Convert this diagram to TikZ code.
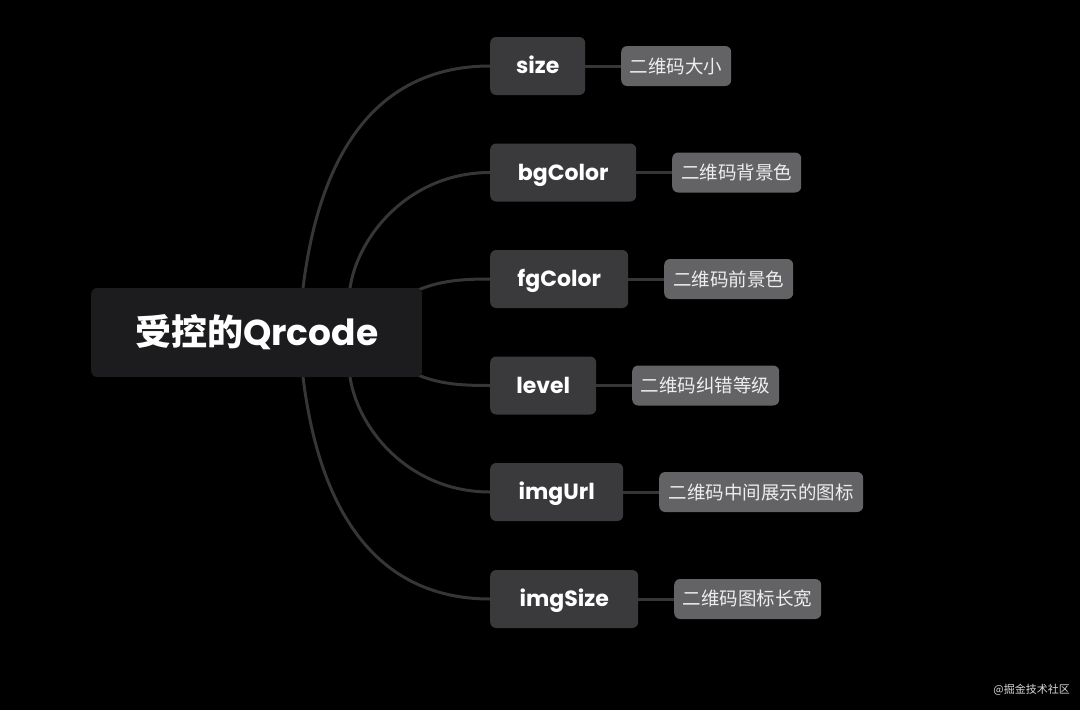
\documentclass[tikz,border=0pt]{standalone}
\usepackage{fontspec}
\setmainfont{Poppins}
\newfontfamily\cjk{Noto Sans CJK SC}
\pgfdeclarelayer{bg}
\pgfdeclarelayer{edges}
\pgfsetlayers{bg,edges,main}
\definecolor{rootfill}{HTML}{1C1C1E}
\definecolor{childfill}{HTML}{3A3A3C}
\definecolor{leaffill}{HTML}{636366}
\definecolor{linecol}{HTML}{363636}
\definecolor{leaftext}{HTML}{EEEEEE}
\tikzset{
  rootbox/.style={draw=none, fill=rootfill, rounded corners=6pt, anchor=west, minimum height=89pt, text=white, inner sep=0pt, text height=25pt, text depth=0pt, font=\fontsize{36}{42}\selectfont\bfseries},
  childbox/.style={draw=none, fill=childfill, rounded corners=6pt, anchor=west, minimum height=58pt, text=white, inner sep=0pt, text height=15.5pt, text depth=0pt, font=\fontsize{22}{26}\selectfont\bfseries},
  leafbox/.style={draw=none, fill=leaffill, rounded corners=6pt, anchor=west, minimum height=40pt, text=leaftext, inner sep=0pt, font=\cjk\fontsize{18.5}{22}\selectfont},
  conn/.style={draw=linecol, line width=3pt},
}
\begin{document}
\begin{tikzpicture}[x=1pt,y=-1pt]
\begin{pgfonlayer}{bg}
\fill[black] (0,0) rectangle (1080,710);
\end{pgfonlayer}
\useasboundingbox (0,0) rectangle (1080,710);

\node[rootbox, minimum width=331pt] (root) at (91,332.5) {{\cjk\bfseries 受控的}Qrcode};

\node[childbox, minimum width=95pt]  (c1) at (490,66)    {size};
\node[childbox, minimum width=146pt] (c2) at (490,172.5) {bgColor};
\node[childbox, minimum width=138pt] (c3) at (490,279)   {fgColor};
\node[childbox, minimum width=106pt] (c4) at (490,385.5) {level};
\node[childbox, minimum width=133pt] (c5) at (490,492)   {imgUrl};
\node[childbox, minimum width=148pt] (c6) at (490,599)   {imgSize};

\node[leafbox, minimum width=110pt] (l1) at (621,66)    {二维码大小};
\node[leafbox, minimum width=129pt] (l2) at (672,172.5) {二维码背景色};
\node[leafbox, minimum width=129pt] (l3) at (664,279)   {二维码前景色};
\node[leafbox, minimum width=147pt] (l4) at (632,385.5) {二维码纠错等级};
\node[leafbox, minimum width=204pt] (l5) at (659,492)   {二维码中间展示的图标};
\node[leafbox, minimum width=147pt] (l6) at (674,599)   {二维码图标长宽};

\node[anchor=east, text=white!85!black, inner sep=0pt, font=\cjk\fontsize{11}{13}\selectfont] (wm) at (1070,690) {@掘金技术社区};

\coordinate (r1) at (303,288);
\coordinate (r2) at (350,288);
\coordinate (r3) at (418,290);
\coordinate (r4) at (418,375);
\coordinate (r5) at (350,377);
\coordinate (r6) at (303,377);

\begin{pgfonlayer}{edges}
\draw[conn] (r1) .. controls (325,110) and (410,66) .. (c1.west);
\draw[conn] (r2) .. controls (358,235) and (410,172.5) .. (c2.west);
\draw[conn] (r3) .. controls (440,281) and (460,279) .. (c3.west);
\draw[conn] (r4) .. controls (440,384) and (460,385.5) .. (c4.west);
\draw[conn] (r5) .. controls (358,430) and (410,492) .. (c5.west);
\draw[conn] (r6) .. controls (325,555) and (410,599) .. (c6.west);
\foreach \i in {1,...,6}{\draw[conn] (c\i.east) -- (l\i.west);}
\end{pgfonlayer}
\end{tikzpicture}
\end{document}
